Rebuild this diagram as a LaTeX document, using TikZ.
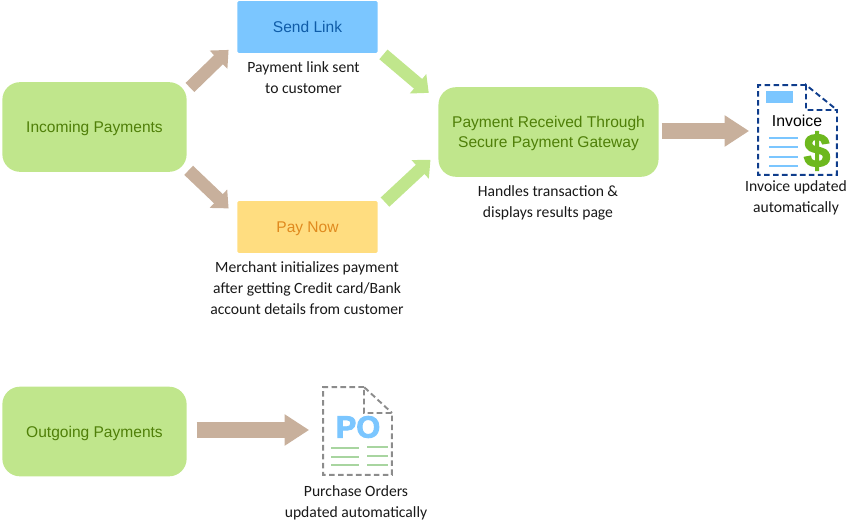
\documentclass[tikz,border=0pt]{standalone}
\usepackage{fontspec}
\usepackage{xcolor}
\setmainfont{Carlito}
\newfontfamily\boxfont{Liberation Sans}
\newfontfamily\heavyfont[FakeBold=3]{Liberation Sans Bold}
\usetikzlibrary{arrows.meta}

\definecolor{boxgreen}{HTML}{C0E68C}
\definecolor{textgreen}{HTML}{4F7F08}
\definecolor{boxblue}{HTML}{7BC6FF}
\definecolor{textblue}{HTML}{0F5CA8}
\definecolor{boxyellow}{HTML}{FFDD80}
\definecolor{textorange}{HTML}{E08A1E}
\definecolor{arrowtan}{HTML}{C8B09C}
\definecolor{dashblue}{HTML}{0F3D8C}
\definecolor{dashgray}{HTML}{8C8C8C}
\definecolor{linegreen}{HTML}{A8D5A0}
\definecolor{dollargreen}{HTML}{6DB81E}

\def\px{0.5669pt}

\tikzset{
    greenbox/.style={fill=boxgreen, rounded corners=10pt, minimum width=185*\px, minimum height=90*\px, inner sep=0pt, outer sep=0pt, align=center, text=textgreen, text depth=0pt, font=\boxfont\fontsize{8.85}{11.8}\selectfont},
    flatbox/.style={rounded corners=0.8pt, minimum width=141*\px, minimum height=52*\px, inner sep=0pt, outer sep=0pt, text depth=0pt, font=\boxfont\fontsize{8.85}{12}\selectfont},
    caption/.style={align=center, inner sep=0pt, text=black!90, font=\fontsize{8.9}{11.9}\selectfont},
    smallarrow/.style={line width=7.2pt, -{Triangle[length=8pt,width=14pt]}},
    bigarrow/.style={arrowtan, line width=9pt, -{Triangle[length=14pt,width=17pt]}},
    pagebox/.style={inner sep=0pt, outer sep=0pt},
    pageedge/.style={dashed, dash pattern=on 3.2pt off 1.9pt, line width=1.1pt}
}

\begin{document}
\begin{tikzpicture}[x=0.02cm, y=-0.02cm]
\useasboundingbox (0,0) rectangle (847,520);

% boxes
\node [greenbox] (incoming) at (94.5,127) {Incoming Payments};
\node [greenbox] (outgoing) at (94.5,431.5) {Outgoing Payments};
\node [greenbox, minimum width=221*\px] (gateway) at (548.5,132) {Payment Received Through\\Secure Payment Gateway};
\node [flatbox, fill=boxblue, text=textblue] (sendlink) at (307.5,27) {Send Link};
\node [flatbox, fill=boxyellow, text=textorange] (paynow) at (307.5,227) {Pay Now};

% captions
\node [caption] (sendtext) at (303.5,77.5) {Payment link sent\\to customer};
\node [caption] (paytext) at (307,288) {Merchant initializes payment\\after getting Credit card/Bank\\account details from customer};
\node [caption] (gatewaytext) at (548,203) {Handles transaction \&\\displays results page};
\node [caption] (invoicetext) at (796,198) {Invoice updated\\automatically};
\node [caption] (potext) at (356,503) {Purchase Orders\\updated automatically};

% invoice page
\node [pagebox, minimum width=79*\px, minimum height=90*\px] (invoicepage) at (797.5,130) {};
\draw [pageedge, dashblue] (806,85) -- (invoicepage.north west) -- (invoicepage.south west) -- (invoicepage.south east) -- (837,110) -- (806,110) -- (806,85) -- (837,110);
\fill [boxblue] (766,91) rectangle (793,103);
\node [inner sep=0pt, font=\boxfont\fontsize{9}{11}\selectfont] (invoiceword) at (797,121) {Invoice};
\foreach \y in {138,147,157,166}
    \draw [boxblue, line width=0.8pt] (769,\y) -- (798,\y);
\node [inner sep=0pt, text=dollargreen, font=\heavyfont\fontsize{27}{27}\selectfont] (dollar) at (817,151) {\$};

% po page
\node [pagebox, minimum width=69*\px, minimum height=88*\px] (popage) at (357.5,431) {};
\draw [pageedge, dashgray] (364,387) -- (popage.north west) -- (popage.south west) -- (popage.south east) -- (392,413) -- (364,413) -- (364,387) -- (392,413);
\node [inner sep=0pt, text=boxblue, font=\heavyfont\fontsize{17.5}{18}\selectfont] (poword) at (358,427) {PO};
\foreach \y in {448,457,465}
    \draw [linegreen, line width=0.8pt] (331,\y) -- (359,\y);
\foreach \y in {447,456,465}
    \draw [linegreen, line width=0.8pt] (367,\y) -- (388,\y);

% arrows
\draw [smallarrow, arrowtan] ([shift={(3.3,5.3)}]incoming.north east) -- ([shift={(-8.7,-3)}]sendlink.south west);
\draw [smallarrow, arrowtan] ([shift={(2,-1.5)}]incoming.south east) -- ([shift={(-8.7,7.3)}]paynow.north west);
\draw [smallarrow, boxgreen] ([shift={(5.7,1.5)}]sendlink.south east) -- ([shift={(-9.7,5.7)}]gateway.north west);
\draw [smallarrow, boxgreen] ([shift={(7.3,1)}]paynow.north east) -- ([shift={(-8,-17)}]gateway.south west);
\draw [bigarrow] ([shift={(3,-1)}]gateway.east) -- ([shift={(-9,1)}]invoicepage.west);
\draw [bigarrow] ([shift={(10,-1.5)}]outgoing.east) -- ([shift={(-14,-1)}]popage.west);

\end{tikzpicture}
\end{document}
